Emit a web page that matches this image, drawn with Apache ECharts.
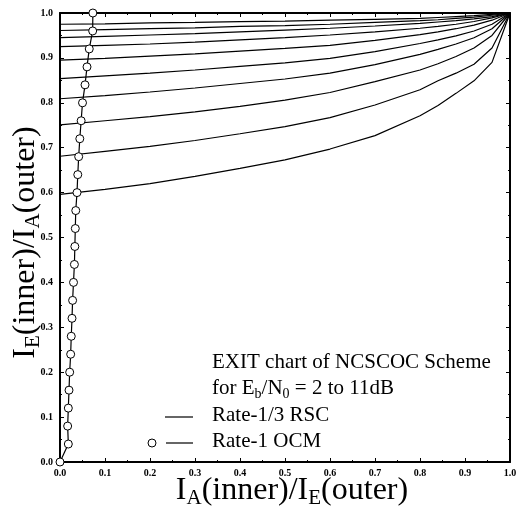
<!DOCTYPE html>
<html>
<head>
<meta charset="utf-8">
<script src="https://cdn.jsdelivr.net/npm/echarts@6/dist/echarts.min.js"></script>
<style>
  html, body { margin: 0; padding: 0; background: #fff; }
  #main { width: 517px; height: 508px; }
</style>
</head>
<body>
<div id="main"></div>
<script>
// I_A(inner) sample points shared by all inner curves
var iaInner = [0, 0.1, 0.2, 0.3, 0.4, 0.5, 0.6, 0.7, 0.8, 0.84, 0.88, 0.92, 0.96, 1.0];

// I_E(inner) for Eb/N0 = 2 ... 11 dB
var ie2dB  = [0.596, 0.607, 0.620, 0.636, 0.654, 0.673, 0.697, 0.727, 0.771, 0.794, 0.821, 0.849, 0.890, 1.0];
var ie3dB  = [0.681, 0.692, 0.703, 0.716, 0.731, 0.747, 0.767, 0.795, 0.829, 0.849, 0.866, 0.886, 0.922, 1.0];
var ie4dB  = [0.751, 0.760, 0.769, 0.780, 0.792, 0.806, 0.823, 0.847, 0.873, 0.887, 0.903, 0.922, 0.950, 1.0];
var ie5dB  = [0.809, 0.816, 0.824, 0.833, 0.843, 0.853, 0.866, 0.885, 0.908, 0.919, 0.931, 0.945, 0.965, 1.0];
var ie6dB  = [0.854, 0.860, 0.866, 0.873, 0.881, 0.889, 0.899, 0.914, 0.932, 0.940, 0.949, 0.960, 0.975, 1.0];
var ie7dB  = [0.895, 0.899, 0.904, 0.909, 0.915, 0.921, 0.928, 0.939, 0.952, 0.958, 0.965, 0.973, 0.984, 1.0];
var ie8dB  = [0.925, 0.928, 0.931, 0.935, 0.940, 0.945, 0.951, 0.958, 0.966, 0.970, 0.975, 0.981, 0.989, 1.0];
var ie9dB  = [0.945, 0.948, 0.951, 0.954, 0.958, 0.962, 0.966, 0.971, 0.977, 0.980, 0.983, 0.987, 0.992, 1.0];
var ie10dB = [0.961, 0.963, 0.965, 0.967, 0.970, 0.972, 0.975, 0.979, 0.983, 0.985, 0.988, 0.991, 0.995, 1.0];
var ie11dB = [0.975, 0.976, 0.978, 0.979, 0.981, 0.982, 0.984, 0.986, 0.988, 0.990, 0.992, 0.994, 0.997, 1.0];
var innerCurves = [ie2dB, ie3dB, ie4dB, ie5dB, ie6dB, ie7dB, ie8dB, ie9dB, ie10dB, ie11dB];

// outer (Rate-1 OCM) curve, axes swapped: x = I_E(outer), y = I_A(outer)
var iaOuter = [0, 0.04, 0.08, 0.12, 0.16, 0.20, 0.24, 0.28, 0.32, 0.36, 0.40, 0.44, 0.48,
               0.52, 0.56, 0.60, 0.64, 0.68, 0.72, 0.76, 0.80, 0.84, 0.88, 0.92, 0.96, 1.0];
var ieOuter = [0, 0.0185, 0.017, 0.0185, 0.020, 0.0215, 0.0237, 0.025, 0.0267, 0.028, 0.030, 0.032, 0.033,
               0.034, 0.035, 0.0378, 0.0395, 0.0415, 0.044, 0.047, 0.050, 0.0556, 0.060, 0.065, 0.0726, 0.073];

var serif = "'Liberation Serif', 'DejaVu Serif', serif";

function pairs(xs, ys) {
	return xs.map(function(x, i){ return [x, ys[i]]; });
}

var series = innerCurves.map(function(ys){
	return {
		name: 'Rate-1/3 RSC',
		type: 'line',
		data: pairs(iaInner, ys),
		symbol: 'none',
		smooth: false,
		lineStyle: {color: '#000', width: 1.2},
		z: 2
	};
});
series.push({
	name: 'Rate-1 OCM',
	type: 'line',
	data: pairs(ieOuter, iaOuter),
	symbol: 'circle',
	symbolSize: 8,
	itemStyle: {color: '#fff', borderColor: '#000', borderWidth: 1},
	lineStyle: {color: '#000', width: 1.2},
	z: 5
});

var tickLabel = {
	color: '#000', fontFamily: serif, fontWeight: 'bold', fontSize: 10,
	formatter: function(v){ return v.toFixed(1); }
};
var nameRich = {
	n: {fontFamily: serif, fontSize: 32, color: '#000', lineHeight: 36},
	s: {fontFamily: serif, fontSize: 21, color: '#000', lineHeight: 21, verticalAlign: 'bottom'}
};

function axisBase(extra) {
	var a = {
		type: 'value', min: 0, max: 1, interval: 0.1,
		axisLine: {onZero: false, lineStyle: {color: '#000', width: 2}},
		axisTick: {inside: true, length: 4, lineStyle: {color: '#000', width: 1}},
		minorTick: {show: true, splitNumber: 2, length: 2, lineStyle: {color: '#000', width: 1}},
		splitLine: {show: false},
		minorSplitLine: {show: false}
	};
	for (var k in extra) a[k] = extra[k];
	return a;
}

var option = {
	backgroundColor: '#fff',
	animation: false,
	grid: {left: 60, right: 7, top: 13, bottom: 46, containLabel: false, outerBoundsMode: 'none'},
	xAxis: [
		axisBase({
			position: 'bottom',
			axisLabel: Object.assign({margin: 6}, tickLabel),
			name: '{n|I}{s|A}{n|(inner)/I}{s|E}{n|(outer)}',
			nameLocation: 'middle',
			nameGap: 11,
			nameMoveOverlap: false,
			nameTextStyle: {rich: nameRich, padding: [0, 0, 0, 14]}
		}),
		axisBase({position: 'top', axisLabel: {show: false}})
	],
	yAxis: [
		axisBase({
			position: 'left',
			axisLabel: Object.assign({margin: 7}, tickLabel),
			name: '{n|I}{s|E}{n|(inner)/I}{s|A}{n|(outer)}',
			nameLocation: 'middle',
			nameRotate: 90,
			nameGap: 16,
			nameMoveOverlap: false,
			nameTextStyle: {rich: nameRich, padding: [0, 10, 0, 0]}
		}),
		axisBase({position: 'right', axisLabel: {show: false}})
	],
	graphic: [
		{type: 'text', left: 212, top: 352, style: {text: 'EXIT chart of NCSCOC Scheme', fontFamily: serif, fontSize: 21, fill: '#000'}},
		{type: 'text', left: 212, top: 378, style: {
			text: '{n|for E}{s|b}{n|/N}{s|0}{n| = 2 to 11dB}', fill: '#000',
			rich: {
				n: {fontFamily: serif, fontSize: 21, lineHeight: 25, fill: '#000'},
				s: {fontFamily: serif, fontSize: 14, lineHeight: 14, verticalAlign: 'bottom', fill: '#000'}
			}
		}},
		{type: 'line', shape: {x1: 165, y1: 417, x2: 193, y2: 417}, style: {stroke: '#000', lineWidth: 1.2}},
		{type: 'text', left: 212, top: 405, style: {text: 'Rate-1/3 RSC', fontFamily: serif, fontSize: 21, fill: '#000'}},
		{type: 'circle', shape: {cx: 152, cy: 443, r: 4}, style: {fill: '#fff', stroke: '#000', lineWidth: 1}},
		{type: 'line', shape: {x1: 166, y1: 443, x2: 193, y2: 443}, style: {stroke: '#000', lineWidth: 1.2}},
		{type: 'text', left: 212, top: 431, style: {text: 'Rate-1 OCM', fontFamily: serif, fontSize: 21, fill: '#000'}}
	],
	series: series
};

echarts.init(document.getElementById('main')).setOption(option);
</script>
</body>
</html>
